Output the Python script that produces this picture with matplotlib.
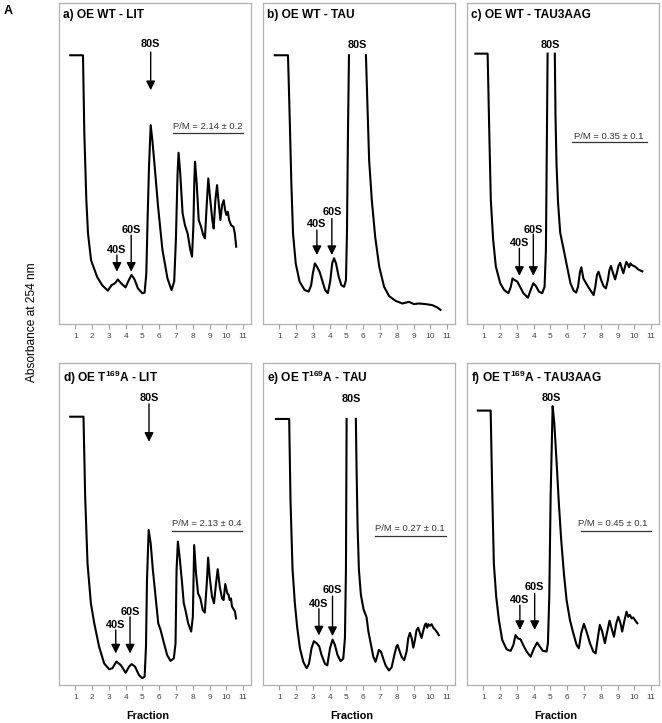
import matplotlib
matplotlib.use("Agg")
import matplotlib.pyplot as plt
import numpy as np

plt.rcParams['font.family'] = ['Liberation Sans', 'DejaVu Sans']
plt.rcParams['mathtext.fontset'] = 'custom'
plt.rcParams['mathtext.rm'] = 'Liberation Sans'
plt.rcParams['mathtext.bf'] = 'Liberation Sans:bold'

nan = np.nan

# polysome profiles (x = fraction, y = A254, arbitrary units)
# nan marks the off-scale part of the 80S peak
frac_a = [0.70, 1.46, 1.54, 1.66, 1.76, 1.94, 2.30, 2.60, 2.94, 3.16, 3.30, 3.40, 3.53, 3.73, 3.99, 4.19, 4.35,
          4.53, 4.73, 4.99, 5.13, 5.23, 5.31, 5.39, 5.49, 5.59, 5.73, 5.93, 6.19, 6.49, 6.73, 6.89, 6.99, 7.09,
          7.15, 7.25, 7.39, 7.53, 7.69, 7.85, 7.95, 8.03, 8.09, 8.13, 8.23, 8.35, 8.49, 8.62, 8.72, 8.82, 8.92,
          9.04, 9.16, 9.24, 9.34, 9.44, 9.54, 9.64, 9.74, 9.84, 9.92, 10.00, 10.08, 10.16, 10.28, 10.42, 10.50, 10.58]
abs_a = [83.8, 83.8, 59.4, 38.6, 28.2, 19.9, 14.7, 12.1, 10.4, 12.1, 12.5, 12.9, 13.9, 12.7, 11.4, 13.7, 15.3,
         13.9, 11.1, 9.6, 9.8, 15.8, 33.4, 49.0, 62.0, 57.3, 49.0, 36.6, 23.1, 14.2, 10.6, 13.2, 26.2, 46.9,
         53.4, 46.9, 34.5, 30.8, 28.2, 23.1, 21.0, 30.3, 44.9, 50.6, 43.8, 32.4, 30.3, 27.7, 26.7, 36.6, 45.4,
         38.6, 32.4, 29.8, 38.6, 43.3, 37.6, 32.4, 37.1, 38.6, 35.5, 34.0, 35.0, 32.4, 30.8, 30.3, 28.2, 24.1]

frac_b = [0.73, 1.52, 1.62, 1.72, 1.82, 1.98, 2.21, 2.51, 2.75, 2.90, 3.00, 3.12, 3.24, 3.40, 3.55, 3.73, 3.89,
          4.03, 4.15, 4.26, 4.38, 4.54, 4.70, 4.86, 4.97, 5.03, 5.09, 5.15, nan, 6.16, 6.24, 6.35, 6.51, 6.71,
          6.95, 7.24, 7.54, 7.93, 8.33, 8.72, 9.02, 9.31, 9.71, 10.10, 10.40, 10.60]
abs_b = [83.8, 83.8, 64.6, 43.8, 28.2, 18.9, 13.2, 10.6, 10.1, 12.1, 15.8, 18.9, 17.9, 16.3, 13.7, 10.6, 9.6,
         13.2, 18.9, 20.5, 18.9, 14.7, 12.1, 11.6, 13.7, 28.2, 59.4, 83.8, nan, 83.8, 69.8, 51.1, 38.6, 27.2,
         17.9, 11.6, 8.7, 7.2, 6.4, 6.9, 6.2, 6.4, 6.2, 5.9, 5.2, 4.4]

frac_c = [0.53, 1.26, 1.36, 1.45, 1.59, 1.75, 2.01, 2.24, 2.50, 2.64, 2.74, 2.87, 3.03, 3.19, 3.39, 3.66, 3.82,
          3.98, 4.14, 4.31, 4.51, 4.65, 4.73, 4.79, 4.83, nan, 5.26, 5.30, 5.36, 5.45, 5.58, 5.79, 5.99, 6.19,
          6.38, 6.53, 6.64, 6.76, 6.84, 6.96, 7.12, 7.27, 7.47, 7.57, 7.67, 7.77, 7.86, 8.02, 8.16, 8.30, 8.42,
          8.51, 8.60, 8.70, 8.85, 8.97, 9.05, 9.15, 9.25, 9.34, 9.44, 9.52, 9.60, 9.68, 9.76, 9.84, 10.04,
          10.23, 10.47]
abs_c = [84.3, 84.3, 59.4, 38.6, 26.2, 17.9, 12.7, 10.6, 9.6, 11.6, 14.2, 13.7, 13.2, 11.6, 9.6, 8.2, 10.6,
         12.7, 11.8, 10.1, 9.6, 11.6, 23.1, 59.4, 84.3, nan, 84.3, 65.0, 50.0, 38.0, 28.5, 23.1, 17.9, 12.7,
         10.4, 9.8, 11.6, 16.3, 17.7, 14.2, 12.7, 11.4, 9.8, 9.0, 11.6, 15.3, 16.3, 13.7, 11.8, 11.1, 13.7,
         16.8, 18.1, 16.3, 13.9, 16.3, 18.1, 19.1, 17.3, 15.8, 17.9, 19.4, 18.7, 17.7, 18.9, 18.4, 17.9,
         17.0, 16.4]

frac_d = [0.70, 1.49, 1.59, 1.73, 1.93, 2.13, 2.42, 2.72, 3.02, 3.21, 3.45, 3.71, 4.00, 4.20, 4.36, 4.56, 4.79,
          4.99, 5.13, 5.21, 5.27, 5.37, 5.49, 5.62, 5.78, 5.94, 6.08, 6.28, 6.47, 6.67, 6.87, 6.97, 7.03, 7.11,
          7.23, 7.36, 7.46, 7.56, 7.72, 7.90, 8.00, 8.08, 8.19, 8.31, 8.45, 8.59, 8.71, 8.83, 8.91, 9.00, 9.14,
          9.26, 9.38, 9.48, 9.60, 9.74, 9.83, 9.93, 10.05, 10.13, 10.19, 10.27, 10.33, 10.43, 10.51, 10.57]
abs_d = [83.4, 83.4, 58.5, 37.8, 25.4, 19.2, 11.9, 6.7, 4.9, 5.2, 7.3, 6.2, 3.8, 5.7, 6.5, 5.7, 3.1,
         2.1, 2.6, 11.9, 32.6, 48.2, 44.0, 35.8, 27.5, 19.2, 17.1, 13.0, 9.3, 7.5, 8.3, 13.0, 35.8, 44.6,
         38.9, 31.6, 25.4, 23.3, 19.2, 16.6, 21.2, 43.5, 34.7, 28.5, 26.9, 23.3, 22.5, 31.6, 39.6, 33.7, 27.5,
         25.4, 31.6, 36.0, 30.6, 26.9, 26.4, 31.4, 28.5, 28.0, 26.4, 26.9, 24.4, 23.5, 22.8, 20.7]

frac_e = [0.80, 1.59, 1.67, 1.79, 1.93, 2.07, 2.23, 2.43, 2.63, 2.77, 2.92, 3.06, 3.22, 3.38, 3.52, 3.72, 3.86,
          4.02, 4.17, 4.31, 4.47, 4.65, 4.81, 4.91, 4.97, 5.01, nan, 5.56, 5.60, 5.66, 5.74, 5.86, 6.02, 6.20,
          6.30, 6.46, 6.60, 6.73, 6.85, 6.93, 7.05, 7.19, 7.33, 7.53, 7.69, 7.85, 7.98, 8.04, 8.14, 8.28, 8.44,
          8.58, 8.68, 8.78, 8.88, 8.98, 9.08, 9.17, 9.27, 9.37, 9.47, 9.57, 9.67, 9.73, 9.81, 9.87, 9.97,
          10.07, 10.17, 10.31, 10.42, 10.50]
abs_e = [82.7, 82.7, 57.3, 36.0, 25.3, 17.8, 11.4, 7.2, 5.2, 6.6, 11.4, 13.6, 13.0, 12.0, 9.3, 6.6, 6.1,
         11.4, 14.1, 12.5, 9.3, 7.4, 8.2, 14.6, 36.0, 82.7, nan, 82.7, 68.0, 50.0, 36.0, 28.0, 23.5, 21.0,
         16.8, 12.5, 8.8, 7.2, 9.3, 10.9, 10.4, 8.2, 6.1, 4.5, 5.5, 9.3, 12.0, 12.5, 10.9, 8.8, 7.7,
         10.4, 14.6, 16.2, 14.6, 11.6, 14.1, 17.0, 17.8, 16.2, 14.6, 16.8, 18.7, 19.1, 17.8, 18.9, 18.4,
         18.9, 17.8, 17.0, 16.2, 15.5]

frac_f = [0.68, 1.44, 1.54, 1.63, 1.77, 1.93, 2.13, 2.39, 2.63, 2.79, 2.92, 3.06, 3.22, 3.38, 3.58, 3.82, 4.02,
          4.21, 4.37, 4.55, 4.77, 4.85, 4.93, 5.01, 5.13, 5.23, 5.37, 5.50, 5.64, 5.80, 5.96, 6.16, 6.36, 6.56,
          6.69, 6.83, 6.99, 7.15, 7.35, 7.55, 7.69, 7.83, 7.94, 8.08, 8.24, 8.38, 8.52, 8.64, 8.78, 8.92, 9.04,
          9.17, 9.27, 9.41, 9.53, 9.63, 9.73, 9.83, 9.93, 10.03, 10.17]
abs_f = [85.3, 85.3, 58.5, 37.8, 27.5, 20.2, 14.0, 11.1, 10.6, 12.4, 15.5, 14.5, 14.2, 12.4, 10.4, 8.8, 11.4,
         13.2, 11.9, 10.6, 10.4, 13.0, 27.5, 58.5, 86.7, 81.3, 68.9, 56.5, 45.1, 34.7, 26.4, 20.2, 16.1, 12.4,
         11.4, 16.1, 19.0, 16.6, 13.0, 10.4, 9.8, 15.0, 18.7, 16.6, 13.0, 16.6, 20.0, 17.6, 15.0, 19.2, 21.2,
         19.2, 16.6, 20.2, 22.8, 21.2, 21.8, 20.7, 21.0, 20.2, 19.2]

titles = ['a) OE WT - LIT', 'b) OE WT - TAU', 'c) OE WT - TAU3AAG',
          r'd) OE T$^{\mathbf{169}}$A - LIT', r'e) OE T$^{\mathbf{169}}$A - TAU',
          r'f) OE T$^{\mathbf{169}}$A - TAU3AAG']
pm_texts = ['P/M = 2.14 ± 0.2', None, 'P/M = 0.35 ± 0.1',
            'P/M = 2.13 ± 0.4', 'P/M = 0.27 ± 0.1', 'P/M = 0.45 ± 0.1']
fractions = [frac_a, frac_b, frac_c, frac_d, frac_e, frac_f]
absorb = [abs_a, abs_b, abs_c, abs_d, abs_e, abs_f]

# annotation layout per panel: (label, x, text y, arrow start y, arrow tip y or None)
peak_marks = [
    [('80S', 5.49, 87.2, 84.8, 72.9), ('60S', 4.33, 29.3, 27.7, 16.3), ('40S', 3.48, 23.1, 21.5, 16.3)],
    [('80S', 5.66, 86.9, None, None), ('60S', 4.13, 34.9, 32.9, 21.5), ('40S', 3.24, 31.2, 29.3, 21.5)],
    [('80S', 5.02, 86.9, None, None), ('60S', 3.98, 29.3, 28.0, 15.0), ('40S', 3.15, 25.3, 23.6, 15.0)],
    [('80S', 5.39, 89.1, 87.4, 75.6), ('60S', 4.26, 22.8, 21.2, 9.8), ('40S', 3.41, 18.7, 17.1, 9.8)],
    [('80S', 5.31, 88.8, None, None), ('60S', 4.17, 29.6, 27.6, 15.2), ('40S', 3.36, 25.3, 23.7, 15.4)],
    [('80S', 5.05, 89.3, None, None), ('60S', 4.06, 30.4, 28.5, 17.1), ('40S', 3.18, 26.4, 24.8, 17.1)],
]
# P/M text position: (x, y, underline y, underline x0, x1)
pm_layout = [(8.88, 61.5, 59.6, 6.79, 10.98), None, (8.46, 58.4, 56.8, 6.29, 10.72),
             (8.85, 50.3, 48.0, 6.73, 10.92), (8.78, 48.6, 46.4, 6.69, 10.92), (8.68, 50.1, 47.9, 6.79, 10.96)]

fig = plt.figure(figsize=(6.62, 7.23), dpi=100)
W, H = 662.0, 723.0
lefts = [59.3, 263.3, 467.3]
rows = [(3.3, 324.0), (363.3, 685.0)]
width = 191.5

for i in range(6):
    r, c = divmod(i, 3)
    top, bot = rows[r]
    ax = fig.add_axes([lefts[c] / W, 1 - bot / H, width / W, (bot - top) / H])
    ax.plot(fractions[i], absorb[i], color='black', lw=1.5, solid_joinstyle='round')
    ax.set_xlim(0.05, 11.45)
    ax.set_ylim(0, 100)
    ax.set_xticks(range(1, 12))
    ax.set_yticks([])
    ax.tick_params(axis='x', length=3.5, width=0.8, color='#a0a0a0', labelsize=6,
                   labelcolor='#444444', pad=3)
    for sp in ax.spines.values():
        sp.set_color('#b0b0b0')
        sp.set_linewidth(0.9)
    ax.text(0.018, 0.982, titles[i], transform=ax.transAxes, ha='left', va='top',
            fontsize=8.6, fontweight='bold')
    for lab, x, ty, y0, y1 in peak_marks[i]:
        ax.text(x, ty, lab, ha='center', va='center', fontsize=7.8, fontweight='bold')
        if y0 is not None:
            ax.annotate('', xy=(x, y1), xytext=(x, y0),
                        arrowprops=dict(arrowstyle='-|>,head_length=0.6,head_width=0.3',
                                        color='black', lw=1.0, mutation_scale=9,
                                        shrinkA=0, shrinkB=0))
    if pm_texts[i] is not None:
        px, py, ly, lx0, lx1 = pm_layout[i]
        ax.text(px, py, pm_texts[i], ha='center', va='center', fontsize=6.8, color='#333333')
        ax.plot([lx0, lx1], [ly, ly], color='#333333', lw=0.9)
    if r == 1:
        ax.text(0.46, -0.096, 'Fraction', transform=ax.transAxes, ha='center', va='center',
                fontsize=7.8, fontweight='bold')

fig.text(32 / W, 1 - 322 / H, 'Absorbance at 254 nm', rotation=90, ha='center', va='center',
         fontsize=8.6)
fig.text(4 / W, 1 - 11 / H, 'A', ha='left', va='center', fontsize=9, fontweight='bold')

fig.savefig('out.png', dpi=100)
